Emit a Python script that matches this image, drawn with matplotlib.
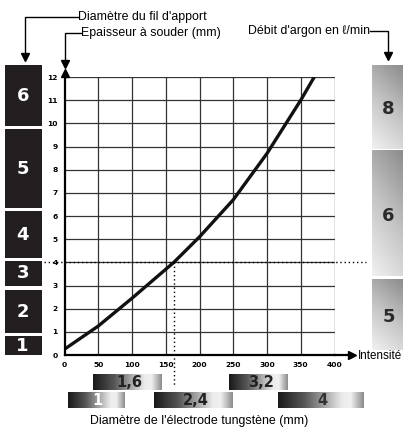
import numpy as np
import matplotlib.pyplot as plt
from matplotlib.colors import LinearSegmentedColormap

# courbe : intensité (A) -> épaisseur à souder (mm)
intensite = [0, 50, 100, 150, 162, 200, 250, 300, 350, 370]
epaisseur = [0.25, 1.25, 2.45, 3.7, 4.0, 5.1, 6.7, 8.7, 11.0, 12.0]

x_ticks = [0, 50, 100, 150, 200, 250, 300, 350, 400]
y_ticks = list(range(0, 13))

# diamètre du fil d'apport (blocs noirs à gauche)
fil_labels = ["1", "2", "3", "4", "5", "6"]
fil_bas = [0.0, 0.95, 3.0, 4.2, 6.35, 9.9]
fil_haut = [0.8, 2.8, 4.05, 6.2, 9.75, 12.5]

# débit d'argon (blocs gris à droite)
argon_labels = ["5", "6", "8"]
argon_bas = [0.2, 3.4, 8.9]
argon_haut = [3.25, 8.8, 12.5]

# diamètre de l'électrode tungstène (barres du bas)
electrode_labels = ["1,6", "3,2", "1", "2,4", "4"]
electrode_debut = [42, 244, 5, 133, 316]
electrode_fin = [143, 331, 88, 250, 442]
electrode_rang = [0, 0, 1, 1, 1]
electrode_texte = ["#222222", "#222222", "white", "#222222", "#333333"]

point_lu = (162, 4)

fig = plt.figure(figsize=(4.03, 4.30), dpi=100)
ax = fig.add_axes([64.5 / 403, 75 / 430, 270 / 403, 278 / 430])
ax.set_xlim(0, 400)
ax.set_ylim(0, 12)
ax.set_autoscale_on(False)

# grille
ax.vlines(x_ticks[1:], 0, 12, color="#333333", lw=0.9)
ax.hlines(y_ticks[1:], 0, 400, color="#333333", lw=0.9)
for s in ["top", "right"]:
    ax.spines[s].set_visible(False)
for s in ["left", "bottom"]:
    ax.spines[s].set_linewidth(1.6)
ax.set_xticks(x_ticks)
ax.set_yticks(y_ticks)
ax.set_xticklabels([str(v) for v in x_ticks], fontsize=5.4, fontweight="bold")
ax.set_yticklabels([str(v) for v in y_ticks], fontsize=5.4, fontweight="bold")
ax.tick_params(length=0, pad=5)

# courbe
ax.plot(intensite, epaisseur, color="#111111", lw=2.4, solid_capstyle="butt")

# lecture en pointillés
ax.plot([-31, 447], [point_lu[1], point_lu[1]], ls=(0, (1, 2)), color="black",
        lw=1.0, clip_on=False)
ax.plot([point_lu[0], point_lu[0]], [point_lu[1], -1.3], ls=(0, (1, 2)),
        color="black", lw=1.0, clip_on=False)

# flèches des axes
ax.plot([400, 424], [0, 0], color="black", lw=1.6, clip_on=False)
ax.plot([426], [0], marker=">", color="black", ms=6, clip_on=False)
ax.text(435, -0.05, "Intensité", fontsize=8.4, va="center", ha="left",
        family="Liberation Sans")
ax.plot([0], [12.18], marker="^", color="black", ms=6, clip_on=False)

# blocs noirs (fil d'apport)
for lab, b, h in zip(fil_labels, fil_bas, fil_haut):
    ax.fill_between([-88, -33], b, h, color="#231f20", lw=0, clip_on=False)
    ax.text(-62, (b + h) / 2, lab, color="white", fontsize=13,
            fontweight="bold", ha="center", va="center")

# blocs gris dégradés (argon)
yy, xx = np.mgrid[0:1:60j, 0:1:20j]
grad = 0.55 * yy + 0.2 * xx
cmap_g = LinearSegmentedColormap.from_list("g", ["#f0f0f0", "#c4c4c4", "#8c8c8c"])
for lab, b, h in zip(argon_labels, argon_bas, argon_haut):
    im = ax.imshow(grad, extent=[455, 501, b, h], cmap=cmap_g, aspect="auto",
                   origin="lower", vmin=0, vmax=0.75)
    im.set_clip_on(False)
    ax.text(480, (b + h) / 2 - 0.1, lab, color="#2a2a2a", fontsize=13,
            fontweight="bold", ha="center", va="center")

# barres électrode
cmap_b = LinearSegmentedColormap.from_list(
    "b", [(0, "#1a1a1a"), (0.3, "#555555"), (0.5, "#959595"),
          (0.75, "#ececec"), (0.85, "#f0f0f0"), (1, "#8f8f8f")])
bar_grad = np.linspace(0, 1, 100).reshape(1, -1)
rang_y = [(-1.51, -0.86), (-2.29, -1.64)]
for lab, d, f, r, c in zip(electrode_labels, electrode_debut, electrode_fin,
                           electrode_rang, electrode_texte):
    lo, hi = rang_y[r]
    im = ax.imshow(bar_grad, extent=[d, f, lo, hi], cmap=cmap_b, aspect="auto")
    im.set_clip_on(False)
    ax.text((d + f) / 2 + 3, (lo + hi) / 2, lab, color=c, fontsize=10.5,
            fontweight="bold", ha="center", va="center")

ax.text(200, -2.85, "Diamètre de l'électrode tungstène (mm)", fontsize=8.9,
        ha="center", va="center", family="Liberation Sans")

# légendes du haut avec flèches coudées
ax.plot([20, -58.5, -58.5], [14.59, 14.59, 12.95], color="black", lw=1.0,
        clip_on=False)
ax.plot([-58.5], [12.85], marker="v", color="black", ms=6, clip_on=False)
ax.text(20.5, 14.59, "Diamètre du fil d'apport", fontsize=8.9, va="center",
        ha="left", family="Liberation Sans")

ax.plot([24, 0, 0], [13.9, 13.9, 12.65], color="black", lw=1.0, clip_on=False)
ax.plot([0], [12.55], marker="v", color="black", ms=6, clip_on=False)
ax.text(24.5, 13.9, "Epaisseur à souder (mm)", fontsize=8.9, va="center",
        ha="left", family="Liberation Sans")

ax.plot([453, 479, 479], [13.98, 13.98, 13.0], color="black", lw=1.0,
        clip_on=False)
ax.plot([479], [12.9], marker="v", color="black", ms=6, clip_on=False)
ax.text(452, 13.98, "Débit d'argon en ℓ/min", fontsize=8.9, va="center",
        ha="right", family="Liberation Sans")

fig.savefig("out.png", dpi=100)
